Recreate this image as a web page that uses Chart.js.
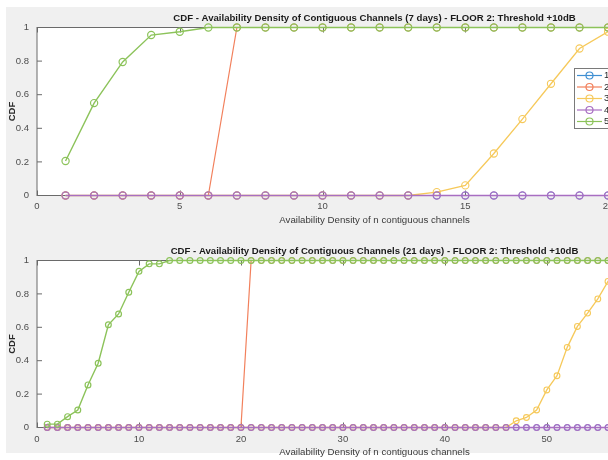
<!DOCTYPE html>
<html>
<head>
<meta charset="utf-8">
<script src="https://cdn.jsdelivr.net/npm/chart.js@4.4.1/dist/chart.umd.min.js"></script>
<style>
  html, body { margin: 0; padding: 0; background: #fff; width: 608px; height: 460px; overflow: hidden; }
  #figure { position: absolute; left: 6px; top: 7px; width: 602px; height: 446px; background: #f0f0f0; }
  .panel { position: absolute; left: 0; }
  #top-panel { top: 0; }
  #bottom-panel { top: 230px; }
</style>
</head>
<body>
<div id="figure"></div>
<canvas id="top-panel" class="panel" width="720" height="230"></canvas>
<canvas id="bottom-panel" class="panel" width="720" height="230"></canvas>
<script>
// --- DATA ---
const seriesLabels = ["1", "2", "3", "4", "5"];
const seriesColors = ["#3f8fd2", "#f2805c", "#f6c95a", "#a86ec2", "#8cc35a"];
const seriesWidths = [1.0, 1.2, 1.3, 1.4, 1.4]; // later series sit on top

// 7 days
const xTop = [1, 2, 3, 4, 5, 6, 7, 8, 9, 10, 11, 12, 13, 14, 15, 16, 17, 18, 19, 20, 21];
const top1 = [0, 0, 0, 0, 0, 0, 0, 0, 0, 0, 0, 0, 0, 0, 0, 0, 0, 0, 0, 0, 0];
const top2 = [0, 0, 0, 0, 0, 0, 1, 1, 1, 1, 1, 1, 1, 1, 1, 1, 1, 1, 1, 1, 1];
const top3 = [0, 0, 0, 0, 0, 0, 0, 0, 0, 0, 0, 0, 0, 0.02, 0.06, 0.25, 0.455, 0.665, 0.875, 0.975, 1];
const top4 = [0, 0, 0, 0, 0, 0, 0, 0, 0, 0, 0, 0, 0, 0, 0, 0, 0, 0, 0, 0, 0];
const top5 = [0.205, 0.55, 0.795, 0.955, 0.975, 1, 1, 1, 1, 1, 1, 1, 1, 1, 1, 1, 1, 1, 1, 1, 1];

// 21 days
const xBottom = [
  1, 2, 3, 4, 5, 6, 7, 8, 9, 10,
  11, 12, 13, 14, 15, 16, 17, 18, 19, 20,
  21, 22, 23, 24, 25, 26, 27, 28, 29, 30,
  31, 32, 33, 34, 35, 36, 37, 38, 39, 40,
  41, 42, 43, 44, 45, 46, 47, 48, 49, 50,
  51, 52, 53, 54, 55, 56, 57
];
const bottom1 = [
  0, 0, 0, 0, 0, 0, 0, 0, 0, 0,
  0, 0, 0, 0, 0, 0, 0, 0, 0, 0,
  0, 0, 0, 0, 0, 0, 0, 0, 0, 0,
  0, 0, 0, 0, 0, 0, 0, 0, 0, 0,
  0, 0, 0, 0, 0, 0, 0, 0, 0, 0,
  0, 0, 0, 0, 0, 0, 0
];
const bottom2 = [
  0, 0, 0, 0, 0, 0, 0, 0, 0, 0,
  0, 0, 0, 0, 0, 0, 0, 0, 0, 0,
  1, 1, 1, 1, 1, 1, 1, 1, 1, 1,
  1, 1, 1, 1, 1, 1, 1, 1, 1, 1,
  1, 1, 1, 1, 1, 1, 1, 1, 1, 1,
  1, 1, 1, 1, 1, 1, 1
];
const bottom3 = [
  0, 0, 0, 0, 0, 0, 0, 0, 0, 0,
  0, 0, 0, 0, 0, 0, 0, 0, 0, 0,
  0, 0, 0, 0, 0, 0, 0, 0, 0, 0,
  0, 0, 0, 0, 0, 0, 0, 0, 0, 0,
  0, 0, 0, 0, 0, 0, 0.04, 0.06, 0.105, 0.225,
  0.31, 0.48, 0.605, 0.685, 0.77, 0.875, 0.95
];
const bottom4 = [
  0, 0, 0, 0, 0, 0, 0, 0, 0, 0,
  0, 0, 0, 0, 0, 0, 0, 0, 0, 0,
  0, 0, 0, 0, 0, 0, 0, 0, 0, 0,
  0, 0, 0, 0, 0, 0, 0, 0, 0, 0,
  0, 0, 0, 0, 0, 0, 0, 0, 0, 0,
  0, 0, 0, 0, 0, 0, 0
];
const bottom5 = [
  0.02, 0.02, 0.065, 0.105, 0.255, 0.385, 0.615, 0.68, 0.81, 0.935,
  0.98, 0.98, 1, 1, 1, 1, 1, 1, 1, 1,
  1, 1, 1, 1, 1, 1, 1, 1, 1, 1,
  1, 1, 1, 1, 1, 1, 1, 1, 1, 1,
  1, 1, 1, 1, 1, 1, 1, 1, 1, 1,
  1, 1, 1, 1, 1, 1, 1
];

const yTicks = [0, 0.2, 0.4, 0.6, 0.8, 1];
const xLabel = "Availability Density of n contiguous channels";
const yLabel = "CDF";
const topTitle = "CDF - Availability Density of Contiguous Channels (7 days) - FLOOR 2: Threshold +10dB";
const bottomTitle = "CDF - Availability Density of Contiguous Channels (21 days) - FLOOR 2: Threshold +10dB";

// --- PLUGINS ---
const plotBackground = {
  id: "plotBackground",
  beforeDraw(chart) {
    const { ctx, chartArea: a } = chart;
    ctx.save();
    ctx.fillStyle = "#ffffff";
    ctx.fillRect(a.left, a.top, a.width, a.height);
    ctx.restore();
  }
};

// box around the axes with inward tick marks (drawn under the lines)
const axesBox = {
  id: "axesBox",
  beforeDatasetsDraw(chart) {
    const { ctx, chartArea: a, scales: { x, y } } = chart;
    ctx.save();
    ctx.strokeStyle = "#6a6a6a";
    ctx.lineWidth = 1;
    ctx.strokeRect(a.left, a.top, a.width, a.height);
    ctx.beginPath();
    x.ticks.forEach(t => {
      const px = Math.round(x.getPixelForValue(t.value)) + 0.5;
      ctx.moveTo(px, a.bottom); ctx.lineTo(px, a.bottom - 5);
      ctx.moveTo(px, a.top); ctx.lineTo(px, a.top + 5);
    });
    y.ticks.forEach(t => {
      const py = y.getPixelForValue(t.value);
      ctx.moveTo(a.left, py); ctx.lineTo(a.left + 5, py);
      ctx.moveTo(a.right, py); ctx.lineTo(a.right - 5, py);
    });
    ctx.stroke();
    ctx.restore();
  }
};

// legend box sitting inside the axes, near the right edge
const insideLegend = {
  id: "insideLegend",
  afterDatasetsDraw(chart, args, opts) {
    if (!opts.show) return;
    const ctx = chart.ctx;
    const left = 574, top = 68, w = 60, h = 60;
    ctx.save();
    ctx.fillStyle = "#ffffff";
    ctx.fillRect(left, top, w, h);
    ctx.strokeStyle = "#7a7a7a";
    ctx.lineWidth = 1;
    ctx.strokeRect(left + 0.5, top + 0.5, w, h);
    ctx.font = "9.5px 'Liberation Sans', Arial, sans-serif";
    ctx.textBaseline = "middle";
    ctx.lineWidth = 1.2;
    seriesLabels.forEach((lab, i) => {
      const yy = top + 7.5 + i * 11.5;
      ctx.strokeStyle = seriesColors[i];
      ctx.beginPath();
      ctx.moveTo(577, yy); ctx.lineTo(602, yy);
      ctx.stroke();
      ctx.beginPath();
      ctx.arc(589.5, yy, 3.5, 0, Math.PI * 2);
      ctx.stroke();
      ctx.fillStyle = "#262626";
      ctx.fillText(lab, 604, yy);
    });
    ctx.restore();
  }
};

// --- CHART BUILDER ---
function buildDatasets(xs, ys, radius) {
  // series 5 on top, series 1 at the bottom
  return ys.map((vals, i) => ({
    label: seriesLabels[i],
    data: xs.map((x, j) => ({ x: x, y: vals[j] })),
    borderColor: seriesColors[i],
    pointBorderColor: seriesColors[i],
    pointBackgroundColor: "rgba(0,0,0,0)",
    borderWidth: seriesWidths[i],
    pointRadius: radius,
    pointBorderWidth: seriesWidths[i] - 0.2,
    pointStyle: "circle",
    tension: 0,
    clip: false,
    order: ys.length - i
  }));
}

function makeChart(id, cfg) {
  const tickFont = { family: "'Liberation Sans', Arial, sans-serif", size: 9.5 };
  return new Chart(document.getElementById(id), {
    type: "line",
    data: { datasets: buildDatasets(cfg.xs, cfg.ys, cfg.radius) },
    options: {
      responsive: false,
      animation: false,
      events: [],
      layout: { padding: { top: cfg.padTop, left: 0, right: 8, bottom: 0 } },
      plugins: {
        legend: { display: false },
        tooltip: { enabled: false },
        title: {
          display: true,
          text: cfg.title,
          fullSize: false,
          color: "#1a1a1a",
          font: { family: "'Liberation Sans', Arial, sans-serif", size: 9.6, weight: "bold", lineHeight: "12px" },
          padding: { top: 0, bottom: 3 }
        },
        insideLegend: { show: cfg.legend }
      },
      scales: {
        x: {
          type: "linear",
          min: 0,
          max: cfg.xMax,
          grid: { display: false, drawTicks: false },
          border: { display: false },
          ticks: { stepSize: cfg.xStep, includeBounds: false, autoSkip: false, maxRotation: 0, padding: cfg.xTickPad, color: "#4d4d4d", font: tickFont },
          title: { display: true, text: xLabel, color: "#3a3a3a", font: { family: "'Liberation Sans', Arial, sans-serif", size: 9.7, lineHeight: "11px" }, padding: { top: 0, bottom: cfg.xTitlePad } },
          afterFit: s => { s.height = cfg.xHeight; }
        },
        y: {
          min: 0,
          max: 1,
          grid: { display: false, drawTicks: false },
          border: { display: false },
          afterBuildTicks: s => { s.ticks = yTicks.map(v => ({ value: v })); },
          ticks: { padding: 8, color: "#4d4d4d", font: tickFont, callback: v => String(v) },
          title: { display: true, text: yLabel, color: "#2a2a2a", font: { family: "'Liberation Sans', Arial, sans-serif", size: 9.5, weight: "bold", lineHeight: "11px" }, padding: { top: 7, bottom: 0 } },
          afterFit: s => { s.width = 37; }
        }
      }
    },
    plugins: [plotBackground, axesBox, insideLegend]
  });
}

makeChart("top-panel", {
  xs: xTop, ys: [top1, top2, top3, top4, top5], radius: 3.6,
  title: topTitle, xMax: 23.64, xStep: 5, legend: true,
  padTop: 12.5, xHeight: 34.5, xTickPad: 5, xTitlePad: 4.5
});

makeChart("bottom-panel", {
  xs: xBottom, ys: [bottom1, bottom2, bottom3, bottom4, bottom5], radius: 2.9,
  title: bottomTitle, xMax: 66.2, xStep: 10, legend: false,
  padTop: 15.5, xHeight: 32.5, xTickPad: 6, xTitlePad: 2.5
});
</script>
</body>
</html>
